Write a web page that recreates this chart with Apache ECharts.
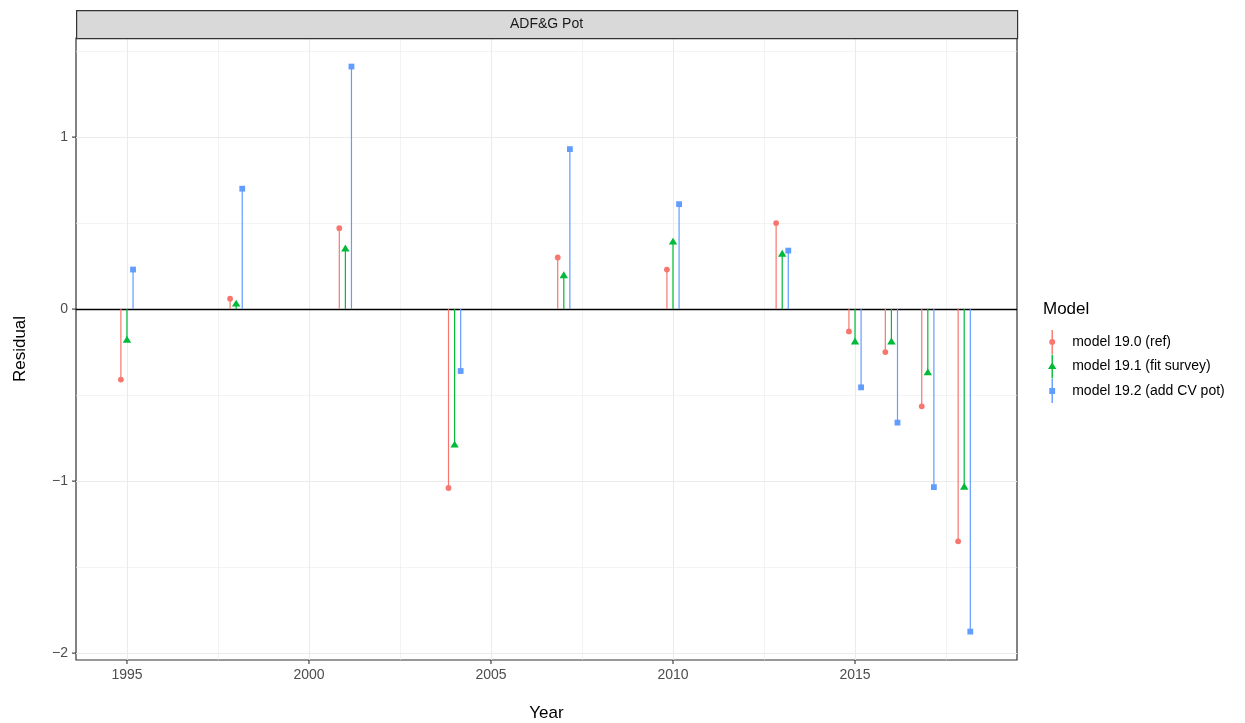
<!DOCTYPE html>
<html>
<head>
<meta charset="utf-8">
<script src="https://cdn.jsdelivr.net/npm/echarts@6/dist/echarts.min.js"></script>
<style>html,body{margin:0;padding:0;background:#fff}#c{width:1245px;height:723px}</style>
</head>
<body>
<div id="c"></div>
<script>
const years = [1995, 1998, 2001, 2004, 2007, 2010, 2013, 2015, 2016, 2017, 2018];
const seriesNames = ['model 19.0 (ref)', 'model 19.1 (fit survey)', 'model 19.2 (add CV pot)'];
const ref190 = [-0.41, 0.06, 0.47, -1.04, 0.30, 0.23, 0.50, -0.13, -0.25, -0.565, -1.35];
const fit191 = [-0.18, 0.03, 0.35, -0.79, 0.195, 0.39, 0.32, -0.19, -0.19, -0.37, -1.035];
const cv192 = [0.23, 0.70, 1.41, -0.36, 0.93, 0.61, 0.34, -0.455, -0.66, -1.035, -1.875];
const xTicks = [1995, 2000, 2005, 2010, 2015];
const xMinor = [1997.5, 2002.5, 2007.5, 2012.5, 2017.5];
const yTicks = [-2, -1, 0, 1];
const yMinor = [-1.5, -0.5, 0.5, 1.5];
const stripLabel = 'ADF&G Pot';
const legendTitle = 'Model';

const colors = ['#F8766D', '#00BA38', '#619CFF'];
const shapes = ['circle', 'triangle', 'square'];
const dodge = 0.167;
const FONT = '"Liberation Sans", Arial, Helvetica, sans-serif';

const chart = echarts.init(document.getElementById('c'), null, {renderer: 'canvas'});

function makeSeries(name, vals, idx) {
  const color = colors[idx];
  const shape = shapes[idx];
  const off = (idx - 1) * dodge;
  return {
    name: name,
    type: 'custom',
    z: 5,
    itemStyle: {color: color},
    encode: {x: 0, y: 1},
    data: years.map((y, i) => [y, vals[i]]),
    renderItem: function (params, api) {
      const x = api.value(0) + off;
      const v = api.value(1);
      const p0 = api.coord([x, 0]);
      const p1 = api.coord([x, v]);
      const children = [{
        type: 'line',
        shape: {x1: p0[0], y1: p0[1], x2: p1[0], y2: p1[1]},
        style: {stroke: color, lineWidth: 1.2}
      }];
      if (shape === 'circle') {
        children.push({type: 'circle', shape: {cx: p1[0], cy: p1[1], r: 2.9}, style: {fill: color}});
      } else if (shape === 'triangle') {
        children.push({type: 'polygon', shape: {points: [[p1[0], p1[1] - 4.3], [p1[0] + 4.2, p1[1] + 2.6], [p1[0] - 4.2, p1[1] + 2.6]]}, style: {fill: color}});
      } else {
        children.push({type: 'rect', shape: {x: p1[0] - 2.9, y: p1[1] - 2.9, width: 5.8, height: 5.8}, style: {fill: color}});
      }
      return {type: 'group', children: children};
    }
  };
}

// axis tick marks drawn through the axis scales
function tickSeries() {
  return {
    name: '_ticks', type: 'custom', silent: true, z: 9, clip: false,
    data: [0],
    renderItem: function (params, api) {
      const children = [];
      xTicks.forEach(t => {
        const p = api.coord([t, -2.04]);
        children.push({type: 'line', shape: {x1: p[0], y1: p[1], x2: p[0], y2: p[1] + 4}, style: {stroke: '#333333', lineWidth: 1.1}});
      });
      yTicks.forEach(t => {
        const p = api.coord([1993.6, t]);
        children.push({type: 'line', shape: {x1: p[0] - 4, y1: p[1], x2: p[0], y2: p[1]}, style: {stroke: '#333333', lineWidth: 1.1}});
      });
      return {type: 'group', children: children};
    }
  };
}

const gridLines = [];
xTicks.forEach(v => gridLines.push({xAxis: v, lineStyle: {color: '#EBEBEB', width: 1.1, type: 'solid'}}));
xMinor.forEach(v => gridLines.push({xAxis: v, lineStyle: {color: '#EBEBEB', width: 0.6, type: 'solid'}}));
yTicks.forEach(v => gridLines.push({yAxis: v, lineStyle: {color: '#EBEBEB', width: 1.1, type: 'solid'}}));
yMinor.forEach(v => gridLines.push({yAxis: v, lineStyle: {color: '#EBEBEB', width: 0.6, type: 'solid'}}));

const icons = [
  'path://M12.3,0 h1.4 v24 h-1.4 z M10,12 a3,3 0 1,1 6,0 a3,3 0 1,1 -6,0 z',
  'path://M12.3,0 h1.4 v24 h-1.4 z M13,7.8 L17.2,14.6 L8.8,14.6 z',
  'path://M12.3,0 h1.4 v24 h-1.4 z M10.1,9.1 h5.8 v5.8 h-5.8 z'
];

const option = {
  animation: false,
  backgroundColor: '#ffffff',
  textStyle: {fontFamily: FONT},
  grid: {left: 76, top: 38, width: 941, height: 622, show: true, borderColor: '#333333', borderWidth: 1.2, backgroundColor: 'transparent', containLabel: false, outerBoundsMode: 'none'},
  xAxis: {
    type: 'value', min: 1993.6, max: 2019.45,
    name: 'Year', nameLocation: 'middle', nameGap: 45,
    nameTextStyle: {fontSize: 17, color: '#000', fontFamily: FONT},
    axisLine: {show: false},
    splitLine: {show: false},
    axisTick: {show: false},
    axisLabel: {show: true, margin: 8, fontSize: 14, color: '#4D4D4D', fontFamily: FONT, customValues: xTicks, formatter: v => String(v)}
  },
  yAxis: {
    type: 'value', min: -2.04, max: 1.576,
    name: 'Residual', nameLocation: 'middle', nameGap: 47, nameRotate: 90,
    nameTextStyle: {fontSize: 17, color: '#000', fontFamily: FONT},
    axisLine: {show: false},
    splitLine: {show: false},
    axisTick: {show: false},
    axisLabel: {show: true, margin: 8, fontSize: 14, color: '#4D4D4D', fontFamily: FONT, customValues: yTicks, formatter: v => String(v).replace('-', '\u2212')}
  },
  legend: {
    orient: 'vertical', left: 1043, top: 325,
    itemWidth: 26, itemHeight: 24, itemGap: 0.5,
    selectedMode: false,
    textStyle: {fontSize: 14, color: '#000', fontFamily: FONT, padding: [0, 0, 0, 2]},
    data: seriesNames.map((n, i) => ({name: n, icon: icons[i]}))
  },
  graphic: [
    {type: 'rect', left: 76, top: 10, shape: {width: 941, height: 28}, style: {fill: '#D9D9D9', stroke: '#333333', lineWidth: 1.2}, z: 10},
    {type: 'text', x: 546.5, y: 24, style: {text: stripLabel, fill: '#1A1A1A', font: '14px ' + FONT, textAlign: 'center', textVerticalAlign: 'middle'}, z: 11},
    {type: 'text', x: 1043, y: 309, style: {text: legendTitle, fill: '#000', font: '17px ' + FONT, textAlign: 'left', textVerticalAlign: 'middle'}, z: 11}
  ],
  series: [
    {
      name: '_grid', type: 'line', data: [], silent: true, z: 1,
      markLine: {silent: true, symbol: ['none', 'none'], label: {show: false}, animation: false, data: gridLines}
    },
    makeSeries(seriesNames[0], ref190, 0),
    makeSeries(seriesNames[1], fit191, 1),
    makeSeries(seriesNames[2], cv192, 2),
    {
      name: '_zero', type: 'line', data: [], silent: true, z: 8,
      markLine: {silent: true, symbol: ['none', 'none'], label: {show: false}, animation: false,
        data: [{yAxis: 0, lineStyle: {color: '#000000', width: 1.3, type: 'solid'}}]}
    },
    tickSeries()
  ]
};
chart.setOption(option);
</script>
</body>
</html>
